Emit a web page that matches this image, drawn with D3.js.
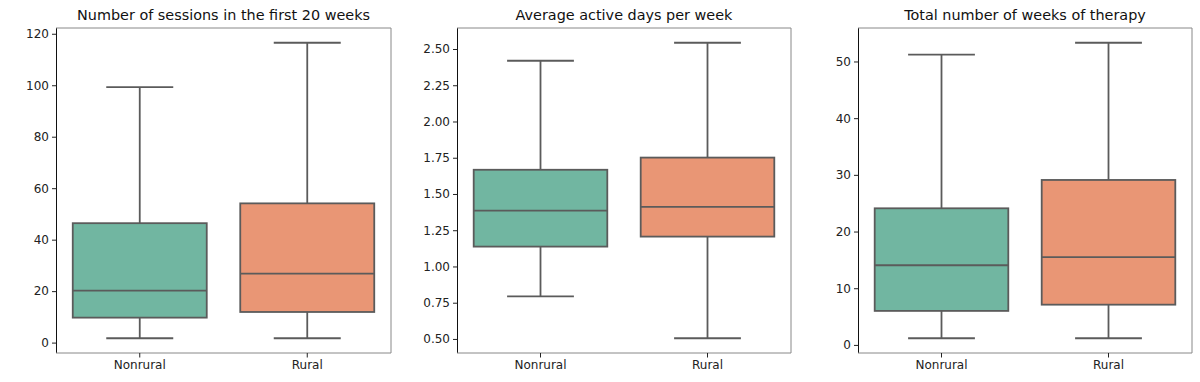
<!DOCTYPE html>
<html><head><meta charset="utf-8">
<script src="https://cdn.jsdelivr.net/npm/d3@7"></script>
<style>body{margin:0;background:#fff;} svg{display:block;}</style>
</head><body>
<svg id="c" width="1200" height="382"></svg>
<script>
const categories = ["Nonrural", "Rural"];
const titles = ["Number of sessions in the first 20 weeks", "Average active days per week", "Total number of weeks of therapy"];
// [whiskerLow, Q1, median, Q3, whiskerHigh]
const sessionsStats = [[1.7, 9.7, 20.2, 46.4, 99.3], [1.7, 11.9, 26.8, 54.1, 116.5]];
const activeDaysStats = [[0.794, 1.137, 1.385, 1.667, 2.419], [0.505, 1.206, 1.411, 1.751, 2.543]];
const weeksStats = [[1.18, 6.0, 14.05, 24.1, 51.2], [1.18, 7.1, 15.5, 29.1, 53.3]];
const sessionsTicks = [0, 20, 40, 60, 80, 100, 120];
const activeDaysTicks = [0.5, 0.75, 1.0, 1.25, 1.5, 1.75, 2.0, 2.25, 2.5];
const weeksTicks = [0, 10, 20, 30, 40, 50];
const colors = ["#71b6a1", "#e99675"];

const panels = [
  {stats: sessionsStats, ticks: sessionsTicks, fmt: d3.format("d"), left: 56, right: 391, title: titles[0]},
  {stats: activeDaysStats, ticks: activeDaysTicks, fmt: d3.format(".2f"), left: 457, right: 791, title: titles[1]},
  {stats: weeksStats, ticks: weeksTicks, fmt: d3.format("d"), left: 858, right: 1192, title: titles[2]}
];
const plotTop = 28, plotBottom = 353;
const lineColor = "#5b5b5b";
const svg = d3.select("#c");

panels.forEach(p => {
  const all = p.stats.flat();
  const mn = d3.min(all), mx = d3.max(all), pad = (mx - mn) * 0.05;
  const y = d3.scaleLinear().domain([mn - pad, mx + pad]).range([plotBottom, plotTop]);
  const x = d3.scaleBand().domain(categories).range([p.left, p.right]).paddingInner(0.2).paddingOuter(0.1);
  const g = svg.append("g");

  p.stats.forEach((s, i) => {
    const cx = x(categories[i]) + x.bandwidth() / 2;
    const bw = x.bandwidth();
    const cw = bw / 2;
    const bg = g.append("g");
    const ln = (x1, x2, y1, y2) => bg.append("line").attr("x1", x1).attr("x2", x2).attr("y1", y1).attr("y2", y2)
      .attr("stroke", lineColor).attr("stroke-width", 1.8);
    ln(cx, cx, y(s[0]), y(s[1]));
    ln(cx, cx, y(s[3]), y(s[4]));
    ln(cx - cw / 2, cx + cw / 2, y(s[0]), y(s[0]));
    ln(cx - cw / 2, cx + cw / 2, y(s[4]), y(s[4]));
    bg.append("rect").attr("x", x(categories[i])).attr("width", bw)
      .attr("y", y(s[3])).attr("height", y(s[1]) - y(s[3]))
      .attr("fill", colors[i]).attr("stroke", lineColor).attr("stroke-width", 1.8);
    ln(x(categories[i]), x(categories[i]) + bw, y(s[2]), y(s[2]));
  });

  g.append("line").attr("x1", p.left + 0.5).attr("x2", p.left + 0.5).attr("y1", plotTop).attr("y2", plotBottom).attr("stroke", "#111").attr("stroke-width", 1);
  g.append("line").attr("x1", p.right).attr("x2", p.right).attr("y1", plotTop).attr("y2", plotBottom).attr("stroke", "#888").attr("stroke-width", 1);
  g.append("line").attr("x1", p.left).attr("x2", p.right).attr("y1", plotTop).attr("y2", plotTop).attr("stroke", "#888").attr("stroke-width", 1);
  g.append("line").attr("x1", p.left).attr("x2", p.right).attr("y1", plotBottom).attr("y2", plotBottom).attr("stroke", "#888").attr("stroke-width", 1);

  const ya = g.append("g").attr("transform", `translate(${p.left + 0.5},0)`)
    .call(d3.axisLeft(y).tickValues(p.ticks).tickFormat(p.fmt).tickSize(4.5).tickPadding(3));
  ya.select(".domain").remove();
  ya.selectAll(".tick line").attr("stroke", "#222");
  ya.selectAll("text").attr("fill", "#222").style("font-family", "DejaVu Sans").style("font-size", "12px");

  const xa = g.append("g").attr("transform", `translate(0,${plotBottom})`)
    .call(d3.axisBottom(x).tickSize(4.5).tickPadding(3));
  xa.select(".domain").remove();
  xa.selectAll(".tick line").attr("stroke", "#222");
  xa.selectAll("text").attr("fill", "#222").style("font-family", "DejaVu Sans").style("font-size", "12px");

  g.append("text").attr("x", (p.left + p.right) / 2).attr("y", 20).attr("text-anchor", "middle")
    .style("font-family", "DejaVu Sans").style("font-size", "14.4px").attr("fill", "#111").text(p.title);
});
</script>
</body></html>
